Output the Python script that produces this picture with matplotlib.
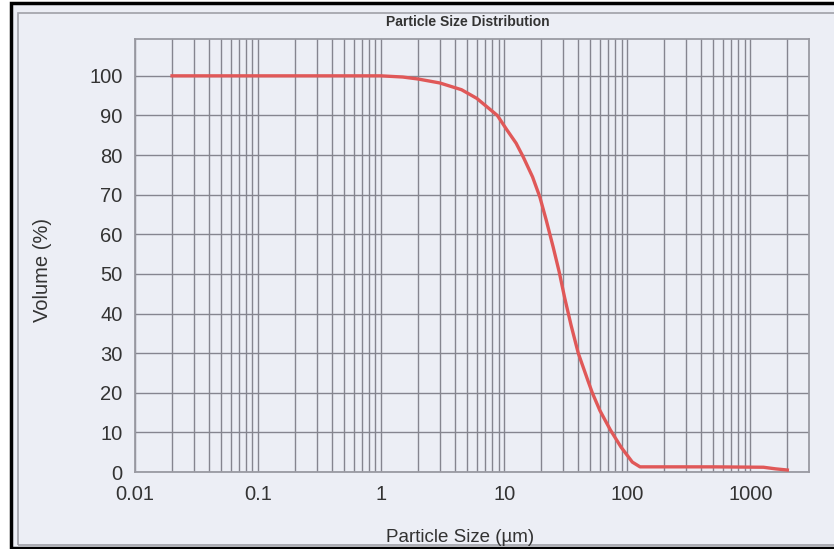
import numpy as np
import matplotlib
matplotlib.use('Agg')
import matplotlib.pyplot as plt
from matplotlib.patches import Rectangle
from matplotlib.ticker import FixedLocator, NullFormatter

# cumulative volume curve (% passing vs particle size in um)
size_um = [0.02, 1.0, 1.5, 2.0, 3.0, 4.5, 6.0, 7.7, 8.8, 10.5, 12.5, 14.3, 17.0, 19.5,
           22.0, 25.0, 28.0, 31.0, 35.0, 40.0, 48.0, 52.0, 60.0, 73.0, 89.0, 110.0,
           127.0, 500.0, 1280.0, 1600.0, 2000.0]
volume_pct = [100, 100, 99.7, 99.2, 98.2, 96.5, 94.3, 91.5, 90.0, 86.4, 83.0, 79.5, 74.5, 69.4,
              63.5, 56.8, 50.5, 44.0, 37.0, 30.0, 23.0, 20.0, 15.5, 10.6, 6.3, 2.5,
              1.3, 1.3, 1.2, 0.8, 0.5]

xticks = [0.01, 0.1, 1, 10, 100, 1000]
xticklabels = ['0.01', '0.1', '1', '10', '100', '1000']
yticks = list(range(0, 101, 10))

bg = '#eceef5'
gridc = '#85858f'
narrow = ['Liberation Sans Narrow', 'Liberation Sans', 'DejaVu Sans']

fig = plt.figure(figsize=(8.34, 5.49), dpi=100)
fig.patch.set_facecolor('white')

# frame around the whole chart
fig.patches.append(Rectangle((11/834, 1-548/549), 830/834, 545/549, transform=fig.transFigure,
                             facecolor=bg, edgecolor='black', linewidth=2.5, zorder=-10))
fig.patches.append(Rectangle((18/834, 1-545/549), 820/834, 532/549, transform=fig.transFigure,
                             facecolor='none', edgecolor='#a0a0a8', linewidth=1.2, zorder=-9))

ax = fig.add_axes([135/834, 1-472/549, 674/834, 433/549])
ax.set_zorder(2)
ax.set_facecolor(bg)
ax.set_xscale('log')
ax.set_xlim(0.01, 3000)
ax.set_ylim(0, 109.3)

minor = [m * d for d in [0.01, 0.1, 1, 10, 100, 1000] for m in range(2, 10) if m * d < 3000]
ax.xaxis.set_minor_locator(FixedLocator(minor))
ax.xaxis.set_minor_formatter(NullFormatter())
ax.set_xticks(xticks)
ax.set_xticklabels(xticklabels, family=narrow, fontsize=14.5, color='#333333')
ax.set_yticks(yticks)
ax.set_yticklabels([str(v) for v in yticks], family=narrow, fontsize=14.5, color='#333333')
ax.tick_params(which='both', length=0)
ax.tick_params(axis='x', pad=9)
ax.tick_params(axis='y', pad=9)

ax.grid(which='major', axis='both', color=gridc, linewidth=1.0)
ax.grid(which='minor', axis='x', color=gridc, linewidth=1.0)
ax.set_axisbelow(True)
for s in ax.spines.values():
    s.set_color('#9a9aa2')
    s.set_linewidth(1.3)

ax.plot(size_um, volume_pct, color='#e05858', linewidth=2.4, zorder=3)

fig.text(468/834, 1-22/549, 'Particle Size Distribution', ha='center', va='center',
         family=narrow, fontweight='bold', fontsize=10, color='#333333')
fig.text(460/834, 1-537/549, 'Particle Size (\u00b5m)', ha='center', va='center',
         family=narrow, fontsize=13.5, color='#333333')
fig.text(43/834, 1-270/549, 'Volume (%)', ha='center', va='center', rotation=90,
         family=['Liberation Sans', 'DejaVu Sans'], fontsize=14.5, color='#333333')

fig.savefig('out.png', dpi=100, facecolor=fig.get_facecolor())
